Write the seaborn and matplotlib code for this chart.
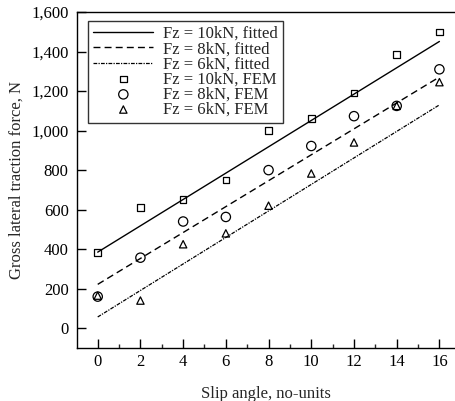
import matplotlib
matplotlib.use("Agg")
import matplotlib.pyplot as plt
import matplotlib.ticker as mticker
import seaborn as sns

# FEM results
slip = [0, 2, 4, 6, 8, 10, 12, 14, 16]
fem_10kn = [383, 610, 652, 750, 1000, 1060, 1190, 1385, 1500]
fem_8kn = [160, 357, 540, 563, 800, 922, 1073, 1125, 1310]
fem_6kn = [165, 140, 425, 480, 620, 783, 940, 1125, 1245]

# fitted straight lines (value at slip 0 and slip 16)
fit_x = [0, 16]
fit_10kn = [385, 1451]
fit_8kn = [222, 1271]
fit_6kn = [57, 1130]

sns.set_style("ticks")
plt.rcParams['font.family'] = ['Liberation Serif', 'DejaVu Serif']
plt.rcParams['font.size'] = 12

fig = plt.figure(figsize=(4.55, 4.01), dpi=100)
ax = fig.add_axes([77 / 455, 1 - 348 / 401, 1 - 77 / 455, (348 - 12) / 401])

sns.lineplot(x=fit_x, y=fit_10kn, ax=ax, color="black", lw=1.0, label="Fz = 10kN, fitted")
sns.lineplot(x=fit_x, y=fit_8kn, ax=ax, color="black", lw=1.0, dashes=False,
             linestyle=(0, (5, 3)), label="Fz = 8kN, fitted")
sns.lineplot(x=fit_x, y=fit_6kn, ax=ax, color="black", lw=0.9, dashes=False,
             linestyle=(0, (3, 1, 1, 1)), label="Fz = 6kN, fitted")

sns.scatterplot(x=slip, y=fem_10kn, ax=ax, marker="s", s=22, facecolor="none",
                edgecolor="black", linewidth=0.9, label="Fz = 10kN, FEM")
sns.scatterplot(x=slip, y=fem_8kn, ax=ax, marker="o", s=45, facecolor="none",
                edgecolor="black", linewidth=0.9, label="Fz = 8kN, FEM")
sns.scatterplot(x=slip, y=fem_6kn, ax=ax, marker="^", s=28, facecolor="none",
                edgecolor="black", linewidth=0.9, label="Fz = 6kN, FEM")

ax.set_xlim(-0.97, 16.73)
ax.set_ylim(-100, 1600)
ax.set_xticks(range(0, 17, 2))
ax.xaxis.set_minor_locator(mticker.MultipleLocator(1))
ax.set_yticks(range(0, 1601, 200))
ax.yaxis.set_major_formatter(mticker.FuncFormatter(lambda v, p: f"{int(v):,}"))

ax.tick_params(axis="both", which="major", direction="in", length=6.5, width=1.0,
               colors="black", labelsize=12)
ax.tick_params(axis="x", which="minor", direction="in", length=3.2, width=1.0)
ax.tick_params(axis="y", pad=6)
ax.tick_params(axis="x", pad=4)

for side in ["left", "top", "bottom"]:
    ax.spines[side].set_linewidth(1.0)
    ax.spines[side].set_color("black")
ax.spines["right"].set_visible(False)

ax.set_xlabel("Slip angle, no-units", fontsize=12, labelpad=12)
ax.set_ylabel("Gross lateral traction force, N", fontsize=12, labelpad=5)

leg = ax.legend(loc="upper left", bbox_to_anchor=(0.03, 0.973), frameon=True,
                fancybox=False, edgecolor="black", fontsize=12, handlelength=3.6,
                labelspacing=-0.05, borderpad=0.3, handletextpad=0.6,
                borderaxespad=0)
leg.get_frame().set_linewidth(1.0)

fig.savefig("out.png", dpi=100)
